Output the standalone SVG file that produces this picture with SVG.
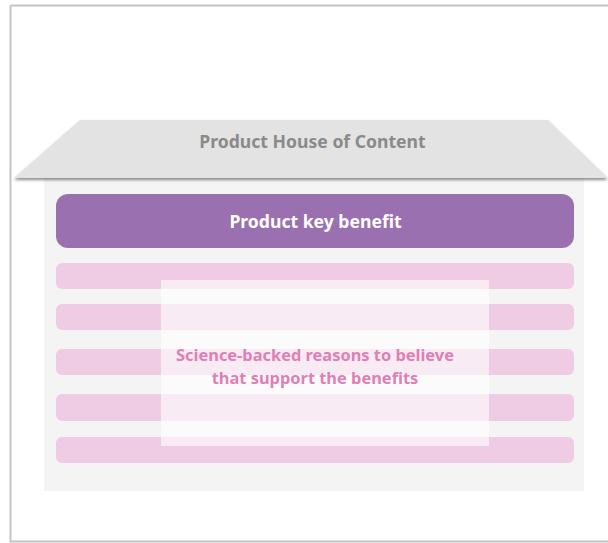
<svg xmlns="http://www.w3.org/2000/svg" width="608" height="543" viewBox="0 0 608 543">
<style>
.t{font-family:"Noto Sans","Open Sans",sans-serif;font-weight:bold;text-anchor:middle}
.bar{fill:#efcce3}
</style>
<defs>
<filter id="sh" x="-5%" y="-20%" width="110%" height="150%">
<feDropShadow dx="0" dy="2" stdDeviation="1.5" flood-color="#000" flood-opacity="0.45"/>
</filter>
</defs>
<rect x="0" y="0" width="608" height="543" fill="#fff"/>
<path d="M10.5 5.5 H608 M10.5 5.5 V541.5 H608" fill="none" stroke="#c4c4c4" stroke-width="2"/>
<g id="house-body">
<rect x="44" y="178" width="540" height="313" fill="#f4f4f4"/>
</g>
<g id="roof">
<polygon points="80,120 548,120 608,178 14,178" fill="#e3e3e3" filter="url(#sh)"/>
<text class="t" x="312.5" y="148" font-size="17.6" fill="#8a8a8a">Product House of Content</text>
</g>
<g id="key-benefit">
<rect x="56" y="194" width="518" height="54" rx="12" fill="#9a70b0"/>
<text class="t" x="315.5" y="228" font-size="17.6" fill="#fff">Product key benefit</text>
</g>
<g id="bars">
<rect class="bar" x="56" y="263" width="518" height="26" rx="6"/>
<rect class="bar" x="56" y="304" width="518" height="26" rx="6"/>
<rect class="bar" x="56" y="349" width="518" height="26" rx="6"/>
<rect class="bar" x="56" y="394" width="518" height="27" rx="6"/>
<rect class="bar" x="56" y="437" width="518" height="26" rx="6"/>
</g>
<g id="reasons">
<rect x="161" y="280" width="328" height="166" fill="#fff" fill-opacity="0.6"/>
<text class="t" font-size="16.4" fill="#e07fb5"><tspan x="315" y="361">Science-backed reasons to believe</tspan><tspan x="315" y="384">that support the benefits</tspan></text>
</g>
<g id="connectors"></g>
</svg>
